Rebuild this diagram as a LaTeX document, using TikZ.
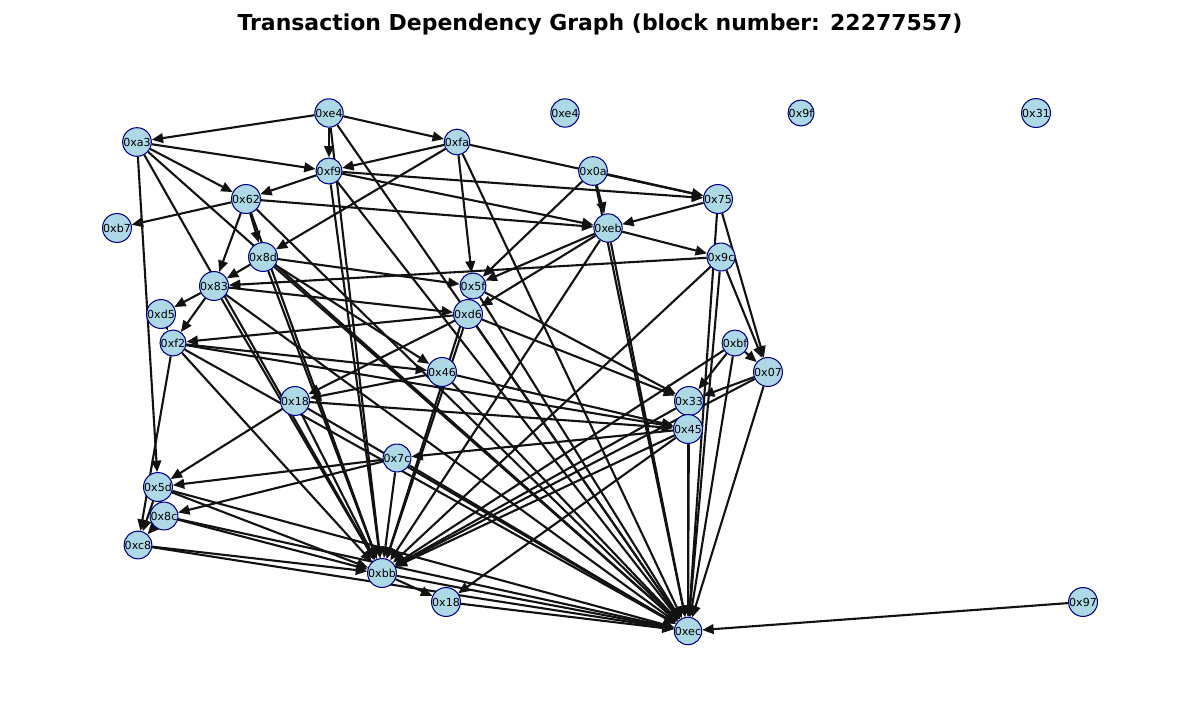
\documentclass[tikz,border=0pt]{standalone}
\usepackage{fontspec}
\setmainfont{DejaVu Sans}
\usetikzlibrary{arrows.meta}
\definecolor{nodefill}{RGB}{173,216,230}
\definecolor{nodeline}{RGB}{0,0,139}
\pgfdeclarelayer{edgelayer}
\pgfsetlayers{edgelayer,main}
\tikzset{
  tx/.style={circle, draw=nodeline, fill=nodefill, line width=0.6pt,
             minimum size=0.46cm, inner sep=0pt,
             font=\fontsize{6.3}{7}\selectfont},
  dep/.style={draw=black!93, line width=1.2pt,
              -{Triangle[length=6.5pt,width=5.5pt]}}
}
\begin{document}
\begin{tikzpicture}[x=0.02cm, y=-0.02cm]
\useasboundingbox (0,0) rectangle (1200,700);
\node[font=\fontsize{12.5}{14}\selectfont\bfseries] (title) at (600,25)
  {Transaction Dependency Graph (block number: 22277557)};
% transactions
\node[tx] (e4a) at (329,113) {0xe4};
\node[tx] (e4b) at (565,113) {0xe4};
\node[tx] (n9f) at (801,113) {0x9f};
\node[tx] (n31) at (1036,113) {0x31};
\node[tx] (a3)  at (137,142) {0xa3};
\node[tx] (fa)  at (457,142) {0xfa};
\node[tx] (f9)  at (329,171) {0xf9};
\node[tx] (n0a) at (593,171) {0x0a};
\node[tx] (n62) at (246,199) {0x62};
\node[tx] (n75) at (718,199) {0x75};
\node[tx] (b7)  at (117,228) {0xb7};
\node[tx] (eb)  at (608,228) {0xeb};
\node[tx] (n8d) at (263,257) {0x8d};
\node[tx] (n9c) at (721,257) {0x9c};
\node[tx] (n83) at (214,286) {0x83};
\node[tx] (n5f) at (473,286) {0x5f};
\node[tx] (d5)  at (161,314) {0xd5};
\node[tx] (d6)  at (468,314) {0xd6};
\node[tx] (f2)  at (173,343) {0xf2};
\node[tx] (bf)  at (735,343) {0xbf};
\node[tx] (n46) at (442,372) {0x46};
\node[tx] (n07) at (768,372) {0x07};
\node[tx] (n18a) at (295,401) {0x18};
\node[tx] (n33) at (689,401) {0x33};
\node[tx] (n45) at (688,429) {0x45};
\node[tx] (n7c) at (397,458) {0x7c};
\node[tx] (n5d) at (158,487) {0x5d};
\node[tx] (n8c) at (164,516) {0x8c};
\node[tx] (c8)  at (138,545) {0xc8};
\node[tx] (bb)  at (382,573) {0xbb};
\node[tx] (n18b) at (446,602) {0x18};
\node[tx] (n97) at (1083,602) {0x97};
\node[tx] (ec)  at (688,631) {0xec};
% dependencies, drawn beneath the nodes
\begin{pgfonlayer}{edgelayer}
\foreach \s/\t in {
  e4a/a3, e4a/fa, e4a/f9, e4a/bb, e4a/ec,
  a3/f9, a3/n62, a3/n5d, a3/bb, a3/ec,
  fa/f9, fa/n75, fa/n8d, fa/n5f, fa/ec,
  f9/n62, f9/n75, f9/eb, f9/bb, f9/ec,
  n0a/n75, n0a/eb, n0a/n5f, n0a/ec,
  n62/b7, n62/n83, n62/n8d, n62/eb, n62/bb, n62/ec,
  n75/eb, n75/n07, n75/ec,
  eb/n9c, eb/n5f, eb/d6, eb/bb, eb/ec,
  n8d/n83, n8d/n5f, n8d/n46, n8d/bb, n8d/ec,
  n9c/n83, n9c/n07, n9c/bb, n9c/ec,
  n83/d5, n83/f2, n83/d6, n83/bb, n83/ec,
  d5/f2,
  n5f/n33, n5f/bb, n5f/ec,
  d6/f2, d6/n18a, d6/n33, d6/bb, d6/ec,
  f2/c8, f2/n46, f2/n45, f2/bb, f2/ec,
  bf/n07, bf/n33, bf/bb, bf/ec,
  n07/n33, n07/bb, n07/ec,
  n18a/n45, n18a/n5d, n18a/bb, n18a/ec,
  n46/n18a, n46/n45, n46/ec,
  n33/bb, n33/ec,
  n45/n7c, n45/n18b, n45/bb, n45/ec,
  n7c/n5d, n7c/n8c, n7c/bb, n7c/ec,
  n5d/n8c, n5d/c8, n5d/bb, n5d/ec,
  n8c/c8, n8c/bb, n8c/ec,
  c8/bb, c8/ec,
  bb/n18b, bb/ec,
  n18b/ec,
  n97/ec}
  \draw[dep] (\s) -- (\t);
\end{pgfonlayer}
\end{tikzpicture}
\end{document}
